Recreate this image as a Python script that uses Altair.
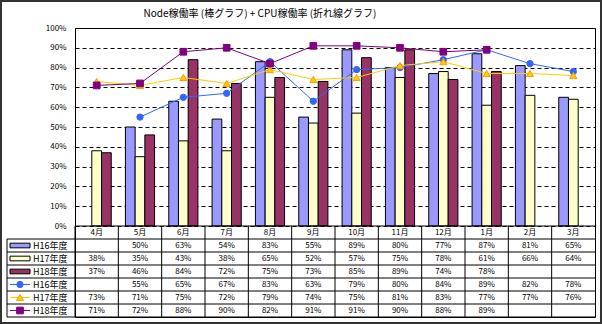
import altair as alt
import pandas as pd

months = ["4月", "5月", "6月", "7月", "8月", "9月", "10月", "11月", "12月", "1月", "2月", "3月"]
series = ["H16年度", "H17年度", "H18年度"]

# Node稼働率 (bars)
node_h16 = [None, 50, 63, 54, 83, 55, 89, 80, 77, 87, 81, 65]
node_h17 = [38, 35, 43, 38, 65, 52, 57, 75, 78, 61, 66, 64]
node_h18 = [37, 46, 84, 72, 75, 73, 85, 89, 74, 78, None, None]
# CPU稼働率 (lines)
cpu_h16 = [None, 55, 65, 67, 83, 63, 79, 80, 84, 89, 82, 78]
cpu_h17 = [73, 71, 75, 72, 79, 74, 75, 81, 83, 77, 77, 76]
cpu_h18 = [71, 72, 88, 90, 82, 91, 91, 90, 88, 89, None, None]

bar_colors = ["#9999FF", "#FFFFCC", "#993366"]
line_colors = ["#3366FF", "#FFCC00", "#800080"]
line_marker_fill = ["#3366FF", "#FFCC00", "#800080"]
line_marker_stroke = ["#3366FF", "#FF9900", "#800080"]
line_shapes = ["circle", "triangle-up", "square"]
line_sizes = [40, 50, 45]

title_text = "Node稼働率 (棒グラフ) + CPU稼働率 (折れ線グラフ)"
FONT = "Noto Sans CJK JP"

node_vals = [node_h16, node_h17, node_h18]
cpu_vals = [cpu_h16, cpu_h17, cpu_h18]

bar_rows = []
for s, vals in zip(series, node_vals):
    for m, v in zip(months, vals):
        if v is not None:
            bar_rows.append({"month": m, "series": s, "value": v})
bar_df = pd.DataFrame(bar_rows)

line_dfs = []
for s, vals in zip(series, cpu_vals):
    rows = [{"month": m, "series": s, "value": v} for m, v in zip(months, vals) if v is not None]
    line_dfs.append(pd.DataFrame(rows))

# table contents: row 0 = month header, rows 1-3 bars, rows 4-6 lines
table_rows = []
for m in months:
    table_rows.append({"month": m, "row": 0, "label": m})
for i, vals in enumerate(node_vals + cpu_vals):
    for m, v in zip(months, vals):
        if v is not None:
            table_rows.append({"month": m, "row": i + 1, "label": f"{v}%"})
table_df = pd.DataFrame(table_rows)

row_label_df = pd.DataFrame({"row": list(range(1, 7)), "label": series + series})

W, H = 520, 289
x_enc = alt.X("month:N", scale=alt.Scale(domain=months, paddingInner=0, paddingOuter=0), axis=None)
yv = alt.Scale(domain=[0, 100], range=[198, 0])
tscale = alt.Scale(domain=[0, 7], range=[198, 289])
y_axis = alt.Axis(values=list(range(0, 101, 10)), labelExpr="datum.value + '%'",
                  grid=True, gridDash=[4, 3], gridColor="black", gridOpacity=1,
                  domain=False, ticks=False, labelPadding=9, labelFontSize=8,
                  labelFont=FONT, labelColor="black", title=None)


def yval():
    return alt.Y("value:Q", scale=yv, stack=None, axis=y_axis, title=None)


bars = alt.Chart(bar_df).mark_bar(stroke="black", strokeWidth=1).encode(
    x=x_enc,
    xOffset=alt.XOffset("series:N", scale=alt.Scale(domain=series, paddingOuter=0.73, paddingInner=0)),
    y=yval(),
    color=alt.Color("series:N", scale=alt.Scale(domain=series, range=bar_colors), legend=None),
)

chart_layers = [bars]
legend_layers = []
for i, (s, d) in enumerate(zip(series, line_dfs)):
    chart_layers.append(
        alt.Chart(d).mark_line(color=line_colors[i], strokeWidth=1).encode(x=x_enc, y=yval())
    )
    chart_layers.append(
        alt.Chart(d).mark_point(shape=line_shapes[i], filled=True, fill=line_marker_fill[i],
                                stroke=line_marker_stroke[i], strokeWidth=1, size=line_sizes[i],
                                opacity=1).encode(x=x_enc, y=yval())
    )
    ld = pd.DataFrame({"row": [i + 4]})
    legend_layers.append(
        alt.Chart(ld).transform_calculate(yc="datum.row + 0.5").mark_rule(
            color=line_colors[i], strokeWidth=1).encode(
            x=alt.value(-65), x2=alt.value(-45),
            y=alt.Y("yc:Q", scale=tscale, axis=None))
    )
    legend_layers.append(
        alt.Chart(ld).transform_calculate(yc="datum.row + 0.5").mark_point(
            shape=line_shapes[i], filled=True, fill=line_marker_fill[i],
            stroke=line_marker_stroke[i], strokeWidth=1, size=line_sizes[i], opacity=1).encode(
            x=alt.value(-55), y=alt.Y("yc:Q", scale=tscale, axis=None))
    )

plot = alt.layer(*chart_layers)

# table
table_text = alt.Chart(table_df).transform_calculate(yc="datum.row + 0.5").mark_text(
    fontSize=8, font=FONT, baseline="middle", align="center", color="black").encode(
    x=x_enc, y=alt.Y("yc:Q", scale=tscale, axis=None), text="label:N")

row_labels = alt.Chart(row_label_df).transform_calculate(yc="datum.row + 0.5").mark_text(
    fontSize=9, font=FONT, baseline="middle", align="left", color="black").encode(
    x=alt.value(-42), y=alt.Y("yc:Q", scale=tscale, axis=None), text="label:N")

bar_legend = alt.Chart(row_label_df.iloc[:3].assign(series=series)).transform_calculate(
    y0="datum.row + 0.32", y1="datum.row + 0.68").mark_rect(stroke="black", strokeWidth=1).encode(
    x=alt.value(-65), x2=alt.value(-45),
    y=alt.Y("y0:Q", scale=tscale, axis=None), y2="y1:Q",
    color=alt.Color("series:N", scale=alt.Scale(domain=series, range=bar_colors), legend=None))

hlines_full = alt.Chart(pd.DataFrame({"row": list(range(1, 8))})).mark_rule(
    color="black", strokeWidth=1).encode(
    x=alt.value(-68), x2=alt.value(W), y=alt.Y("row:Q", scale=tscale, axis=None))
hline_top = alt.Chart(pd.DataFrame({"row": [0]})).mark_rule(color="black", strokeWidth=1).encode(
    x=alt.value(0), x2=alt.value(W), y=alt.Y("row:Q", scale=tscale, axis=None))
vlines = alt.Chart(pd.DataFrame({"month": months})).transform_calculate(
    y0="0", y1="7").mark_rule(color="black", strokeWidth=1).encode(
    x=alt.X("month:N", scale=alt.Scale(domain=months, paddingInner=0, paddingOuter=0),
            axis=None, bandPosition=0),
    y=alt.Y("y0:Q", scale=tscale, axis=None), y2="y1:Q")
left_vline = alt.Chart(pd.DataFrame({"r0": [1], "r1": [7]})).mark_rule(
    color="black", strokeWidth=1).encode(
    x=alt.value(-68), y=alt.Y("r0:Q", scale=tscale, axis=None), y2="r1:Q")

title = alt.Chart(pd.DataFrame({"t": [title_text]})).mark_text(
    fontSize=10, font=FONT, align="center", baseline="middle", color="black").encode(
    x=alt.value(185), y=alt.value(-14), text="t:N")

frame = alt.Chart(pd.DataFrame({"a": [0]})).mark_rect(
    fill=None, stroke="#333333", strokeWidth=2).encode(
    x=alt.value(-74), x2=alt.value(526), y=alt.value(-27), y2=alt.value(295))

table = alt.layer(hline_top, hlines_full, vlines, left_vline, table_text, row_labels,
                  bar_legend, *legend_layers, title, frame)

chart = alt.layer(plot, table).resolve_scale(y="independent").properties(
    width=W, height=H,
    autosize=alt.AutoSizeParams(type="none"),
    padding={"left": 75, "top": 28, "right": 7, "bottom": 7},
    background="white",
).configure_view(stroke="black", strokeWidth=1)

chart.save("out.html", embed_options={"renderer": "svg", "actions": False})
